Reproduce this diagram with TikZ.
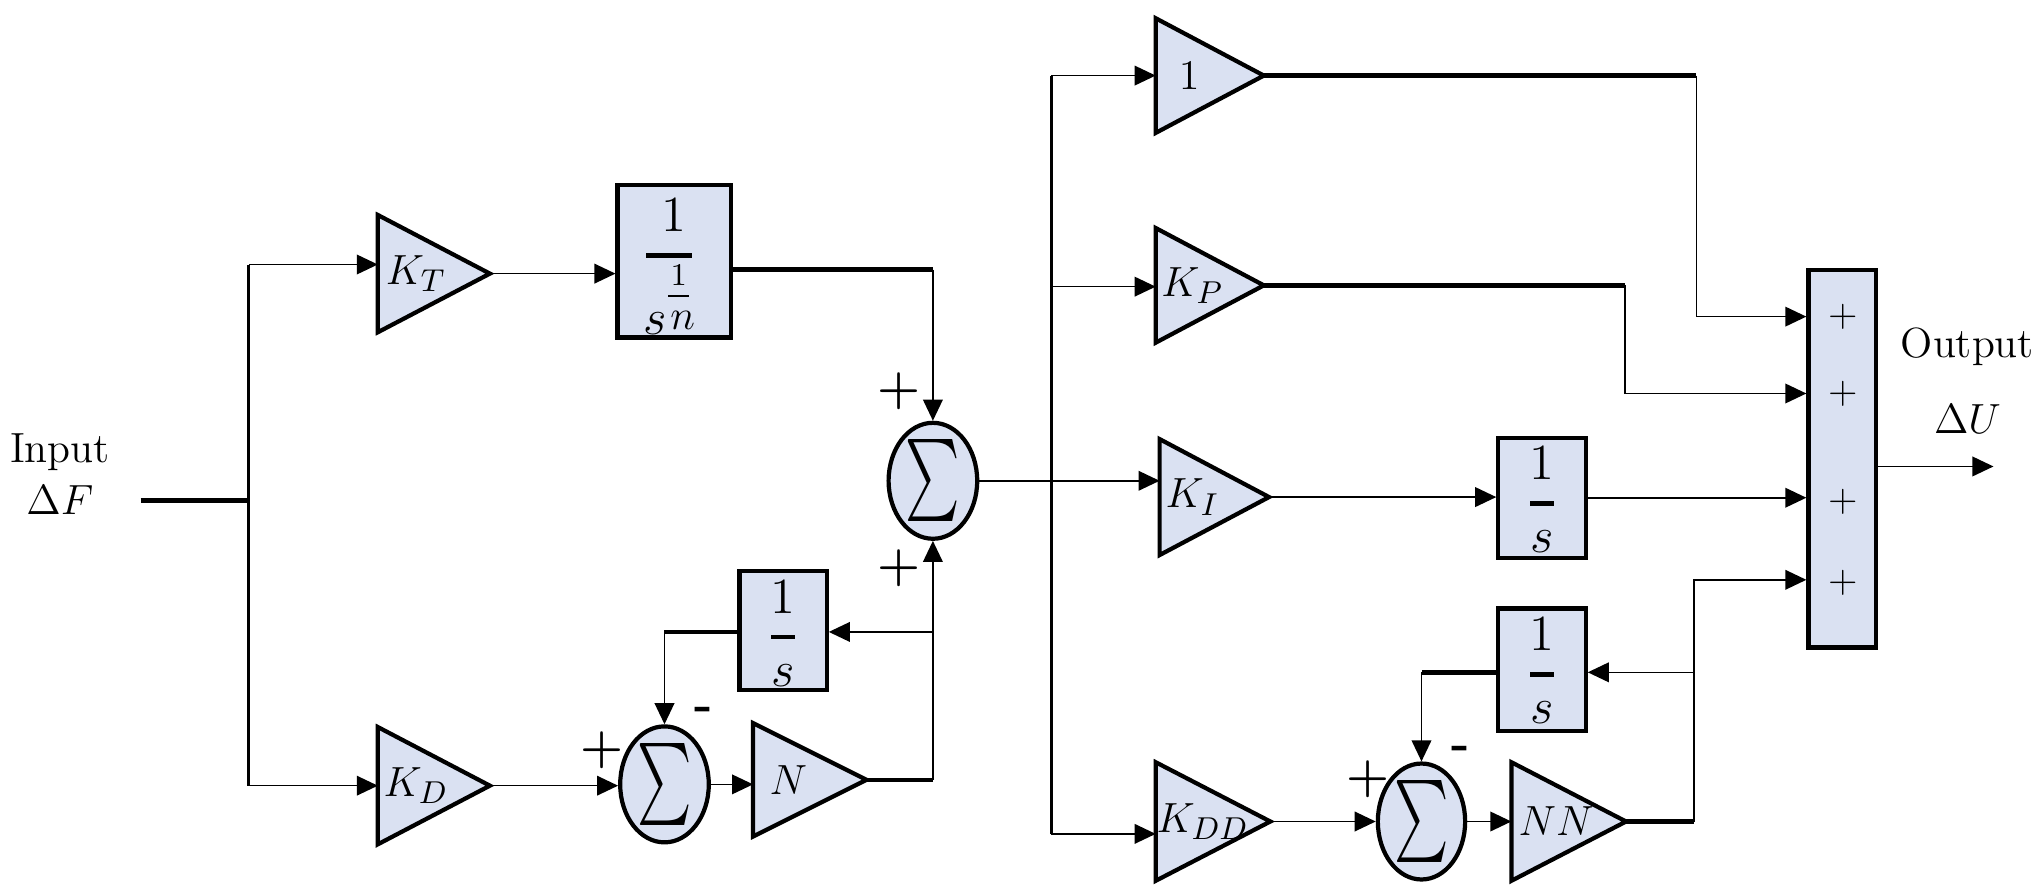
\documentclass[tikz,border=0pt]{standalone}
\usepackage{amsmath}
\usepackage{graphicx}
\usetikzlibrary{arrows.meta,shapes.geometric,calc}
\definecolor{blkfill}{HTML}{DAE1F2}
\newlength{\unitpx}
\setlength{\unitpx}{0.13029mm}
% amplifier triangle: name, left x, top y, bottom y, tip x, label, label x-fraction
\newcommand{\amp}[7]{%
  \coordinate (#1-a) at (#2,#3);
  \coordinate (#1-b) at (#2,#4);
  \coordinate (#1-e) at (#5,{(#3+#4)/2});
  \draw[outl] (#1-a) -- (#1-e) -- (#1-b) -- cycle;
  \node[lbl] (#1) at ({#2+#7*(#5-#2)},{(#3+#4)/2}) {#6};
}
% 1/s box: name, center, height
\newcommand{\onesbox}[3]{%
  \node[blk, minimum width=67\unitpx, minimum height=#3\unitpx] (#1) at (#2) {};
  \node[fr, anchor=base] (#1-n) at ($(#1.north)+(0,34)$) {$1$};
  \draw[line width=1.4pt] ($(#1.north)+(-9,52)$) -- ($(#1.north)+(9,52)$);
  \node[fr, anchor=base] (#1-d) at ($(#1.north)+(0,90)$) {$s$};
}
\begin{document}
\begin{tikzpicture}[x=0.13029mm,y=-0.13029mm,
  >={Triangle[length=6pt,width=5.6pt]},
  thinl/.style={line width=0.45pt},
  thickl/.style={line width=1.3pt},
  midl/.style={line width=0.8pt},
  outl/.style={line width=1.2pt, fill=blkfill, line join=miter},
  lbl/.style={inner sep=0pt, font=\fontsize{12.5}{15}\selectfont},
  fr/.style={inner sep=0pt, font=\fontsize{15}{17}\selectfont},
  blk/.style={draw, line width=1.2pt, fill=blkfill, inner sep=0pt},
  sumn/.style={ellipse, draw, line width=1.2pt, fill=blkfill, inner sep=0pt,
    minimum width=68\unitpx, minimum height=82\unitpx},
  txt/.style={inner sep=0pt, font=\fontsize{12}{14}\selectfont},
  pl/.style={inner sep=0pt, font=\fontsize{14}{15}\selectfont\bfseries},
  spl/.style={inner sep=0pt, font=\fontsize{11}{12}\selectfont\sffamily},
]
\useasboundingbox (0,0) rectangle (1568,687);
\newcommand{\sumsym}{\fontsize{19}{19}\selectfont\scalebox{0.85}[1.35]{$\sum$}}

% ---------- left part ----------
\amp{kt}{290}{165}{255}{376}{$K_T$}{0.34}
\amp{kd}{290}{558}{648}{376}{$K_D$}{0.34}
\amp{na}{578}{555}{642}{665}{$N$}{0.31}

\node[blk, minimum width=87\unitpx, minimum height=117\unitpx] (b1) at (517.5,200.5) {};
\node[fr, anchor=base] (b1-n) at (517,178) {$1$};
\draw[line width=1.4pt] (496,196) -- (531,196);
\node[inner sep=0pt, anchor=base, font=\fontsize{9}{10}\selectfont] (b1-m) at (521,219) {$1$};
\draw[line width=0.6pt] (513,227) -- (529,227);
\node[fr, anchor=base] (b1-s) at (503,257) {$s$};
\node[inner sep=0pt, anchor=base, font=\fontsize{12}{13}\selectfont] (b1-p) at (524,253) {$n$};

\onesbox{b2}{601,484}{91}

\node[sumn] (s1) at (716,369) {\sumsym};
\node[sumn, minimum height=83\unitpx] (s2) at (510,602) {\sumsym};

\coordinate (inS) at (108,384);
\coordinate (j0) at (191,384);
\coordinate (jt) at (191,203);
\coordinate (jb) at (191,603);
\draw[thickl] (inS) -- (j0);
\draw[midl] (jt) -- (jb);
\draw[thinl,->] (jt) -- (jt -| kt-a);
\draw[thinl,->] (jb) -- (jb -| kd-a);
\draw[thinl,->] (kt-e) -- (kt-e -| b1.west);
\coordinate (c1) at (716,207);
\draw[thickl] (b1.east |- c1) -- (c1);
\draw[thinl,->] (c1) -- (s1.north);
\draw[thinl,->] (kd-e) -- (kd-e -| s2.west);
\draw[thinl,->] (s2.east) -- (s2.east -| na-a);
\coordinate (c2) at (na-e -| s1.south);
\draw[thickl] (na-e) -- (c2);
\draw[thinl,->] (c2) -- (s1.south);
\coordinate (c3) at (716,485);
\draw[thinl,->] (c3) -- (c3 -| b2.east);
\coordinate (c4) at (s2.north |- c3);
\draw[thickl] (b2.west |- c3) -- (c4);
\draw[thinl,->] (c4) -- (s2.north);

\node[txt] (tIn) at (46,347) {Input};
\node[txt] (tDF) at (46,384) {$\Delta F$};
\node[pl] (p1) at (690,300) {+};
\node[pl] (p2) at (690,436) {+};
\node[pl] (p3) at (462,576) {+};
\node[pl] (m1) at (540,548) {-};

% ---------- right part ----------
\amp{g1}{887}{14}{102}{970}{$1$}{0.31}
\amp{kp}{887}{175}{263}{970}{$K_P$}{0.34}
\amp{ki}{890}{337}{426}{974}{$K_I$}{0.3}
\amp{kdd}{887}{585}{676}{975}{$K_{DD}$}{0.41}
\amp{nn}{1160}{585}{676}{1248}{$NN$}{0.39}

\onesbox{b3}{1183.5,382}{92}
\onesbox{b4}{1183.5,514}{94}
\node[sumn, minimum width=67\unitpx, minimum height=83\unitpx] (s3) at (1091,630.5) {\sumsym};
\node[blk, minimum width=52\unitpx, minimum height=290\unitpx] (big) at (1414,352) {};

\coordinate (r0) at (807,58);
\coordinate (r1) at (807,640);
\coordinate (rkp) at (807,220);
\draw[midl] (r0) -- (r1);
\draw[thinl,->] (s1.east) -- (s1.east -| ki-a);
\draw[thinl,->] (r0) -- (r0 -| g1-a);
\draw[thinl,->] (rkp) -- (rkp -| kp-a);
\draw[thinl,->] (r1) -- (r1 -| kdd-a);

\coordinate (d1) at (1302,58);
\coordinate (d1b) at (1302,243);
\draw[thickl] (g1-e) -- (d1);
\draw[thinl,->] (d1) -- (d1b) -- (d1b -| big.west);

\coordinate (d2) at (1247,219);
\coordinate (d2b) at (1247,302);
\draw[thickl] (kp-e) -- (d2);
\draw[thinl,->] (d2) -- (d2b) -- (d2b -| big.west);

\draw[thinl,->] (ki-e) -- (ki-e -| b3.west);
\draw[thinl,->] (b3.east) -- (b3.east -| big.west);

\draw[thinl,->] (kdd-e) -- (kdd-e -| s3.west);
\draw[thinl,->] (s3.east) -- (s3.east -| nn-a);
\coordinate (d4) at (1300,630.5);
\coordinate (d4b) at (1300,445);
\draw[thickl] (nn-e) -- (d4);
\draw[thinl,->] (d4) -- (d4b) -- (d4b -| big.west);
\coordinate (d5) at (1300,516);
\draw[thinl,->] (d5) -- (d5 -| b4.east);
\coordinate (c6) at (s3.north |- d5);
\draw[thickl] (b4.west |- d5) -- (c6);
\draw[thinl,->] (c6) -- (s3.north);

\coordinate (outE) at (1530,358);
\draw[thinl,->] (big.east |- outE) -- (outE);

\node[spl] (q1) at (1415,243) {+};
\node[spl] (q2) at (1415,302) {+};
\node[spl] (q3) at (1415,385) {+};
\node[spl] (q4) at (1415,447) {+};
\node[pl] (p4) at (1050,598) {+};
\node[pl] (m2) at (1121,578) {-};
\node[txt] (tOut) at (1510,266) {Output};
\node[txt] (tDU) at (1510,322) {$\Delta U$};
\end{tikzpicture}
\end{document}
